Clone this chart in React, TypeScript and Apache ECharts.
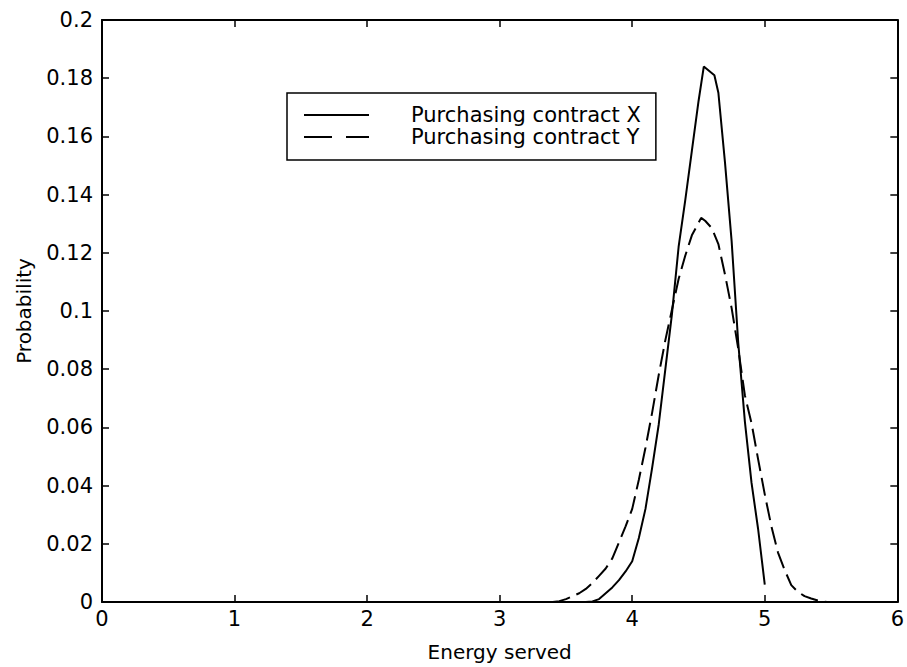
import React, { useEffect, useRef } from "react";
import * as echarts from "echarts";

const FONT = "DejaVu Sans";

const seriesNames = ["Purchasing contract X", "Purchasing contract Y"];

const xTicks = { min: 0, max: 6, interval: 1 };
const yTicks = { min: 0, max: 0.2, interval: 0.02 };

// Purchasing contract X (solid)
const energyX = [
  3.65, 3.7, 3.75, 3.8, 3.85, 3.9, 3.95, 4.0, 4.05, 4.1, 4.15, 4.2, 4.25, 4.3,
  4.35, 4.4, 4.45, 4.5, 4.54, 4.62, 4.65, 4.7, 4.75, 4.8, 4.85, 4.9, 4.95, 5.0,
];
const probX = [
  0, 0.0002, 0.001, 0.003, 0.005, 0.0075, 0.0105, 0.014, 0.022, 0.032, 0.046,
  0.061, 0.08, 0.099, 0.122, 0.138, 0.155, 0.172, 0.184, 0.181, 0.175, 0.151,
  0.124, 0.089, 0.062, 0.041, 0.025, 0.006,
];

// Purchasing contract Y (dashed)
const energyY = [
  3.4, 3.45, 3.5, 3.55, 3.6, 3.65, 3.7, 3.75, 3.8, 3.85, 3.9, 3.95, 4.0, 4.05,
  4.1, 4.15, 4.2, 4.25, 4.3, 4.35, 4.4, 4.45, 4.52, 4.55, 4.6, 4.65, 4.7, 4.75,
  4.8, 4.85, 4.9, 4.95, 5.0, 5.05, 5.1, 5.15, 5.2, 5.25, 5.3, 5.35, 5.4, 5.45,
  5.47,
];
const probY = [
  0, 0.0003, 0.001, 0.002, 0.003, 0.0045, 0.0065, 0.009, 0.0115, 0.015, 0.0205,
  0.026, 0.032, 0.042, 0.053, 0.065, 0.078, 0.09, 0.1005, 0.111, 0.119, 0.126,
  0.132, 0.131, 0.1285, 0.123, 0.1125, 0.101, 0.087, 0.071, 0.0615, 0.049,
  0.037, 0.026, 0.017, 0.011, 0.0058, 0.0035, 0.002, 0.0012, 0.0005, 0.0001, 0,
];

const xAxisName = "Energy served";
const yAxisName = "Probability";

export default function App() {
  const ref = useRef<HTMLDivElement>(null);

  useEffect(() => {
    if (!ref.current) return;
    const chart = echarts.init(ref.current, null, { renderer: "svg" });
    const axisLine = {
      show: true,
      onZero: false,
      lineStyle: { color: "#000", width: 2 },
    };
    const axisTick = {
      show: true,
      inside: true,
      length: 7,
      lineStyle: { color: "#000", width: 1.5 },
    };
    const labelStyle = { fontFamily: FONT, fontSize: 21, color: "#000" };

    chart.setOption({
      animation: false,
      backgroundColor: "#fff",
      grid: { left: 102, right: 7, top: 20, bottom: 65 },
      legend: {
        orient: "vertical",
        left: 287,
        top: 93,
        borderColor: "#000",
        borderWidth: 1.5,
        backgroundColor: "#fff",
        padding: [11, 15, 12, 16],
        itemWidth: 65,
        itemHeight: 14,
        itemGap: 0,
        itemStyle: { opacity: 0 },
        textStyle: {
          fontFamily: FONT,
          fontSize: 21,
          color: "#000",
          lineHeight: 22,
          padding: [0, 0, 0, 37],
        },
        data: [
          { name: seriesNames[0] },
          { name: seriesNames[1], lineStyle: { type: [28, 14] } },
        ],
      },
      xAxis: [
        {
          type: "value",
          ...xTicks,
          position: "bottom",
          axisLine,
          axisTick,
          splitLine: { show: false },
          axisLabel: { ...labelStyle, margin: 6 },
          name: xAxisName,
          nameLocation: "middle",
          nameGap: 40,
          nameTextStyle: { fontFamily: FONT, fontSize: 20, color: "#000" },
        },
        {
          type: "value",
          ...xTicks,
          position: "top",
          axisLine,
          axisTick,
          splitLine: { show: false },
          axisLabel: { show: false },
        },
      ],
      yAxis: [
        {
          type: "value",
          ...yTicks,
          position: "left",
          axisLine,
          axisTick,
          splitLine: { show: false },
          axisLabel: { ...labelStyle, margin: 9 },
          name: yAxisName,
          nameLocation: "middle",
          nameGap: 68,
          nameTextStyle: { fontFamily: FONT, fontSize: 20, color: "#000" },
        },
        {
          type: "value",
          ...yTicks,
          position: "right",
          axisLine,
          axisTick,
          splitLine: { show: false },
          axisLabel: { show: false },
        },
      ],
      series: [
        {
          name: seriesNames[0],
          type: "line",
          data: energyX.map((x, i) => [x, probX[i]]),
          showSymbol: false,
          symbol: "none",
          lineStyle: { color: "#000", width: 2, type: "solid" },
          itemStyle: { color: "#000" },
        },
        {
          name: seriesNames[1],
          type: "line",
          data: energyY.map((x, i) => [x, probY[i]]),
          showSymbol: false,
          symbol: "none",
          lineStyle: { color: "#000", width: 2, type: [18, 7] },
          itemStyle: { color: "#000" },
        },
      ],
    });
    return () => chart.dispose();
  }, []);

  return (
    <div
      ref={ref}
      style={{ position: "fixed", left: 0, top: 0, width: 907, height: 667 }}
    />
  );
}
